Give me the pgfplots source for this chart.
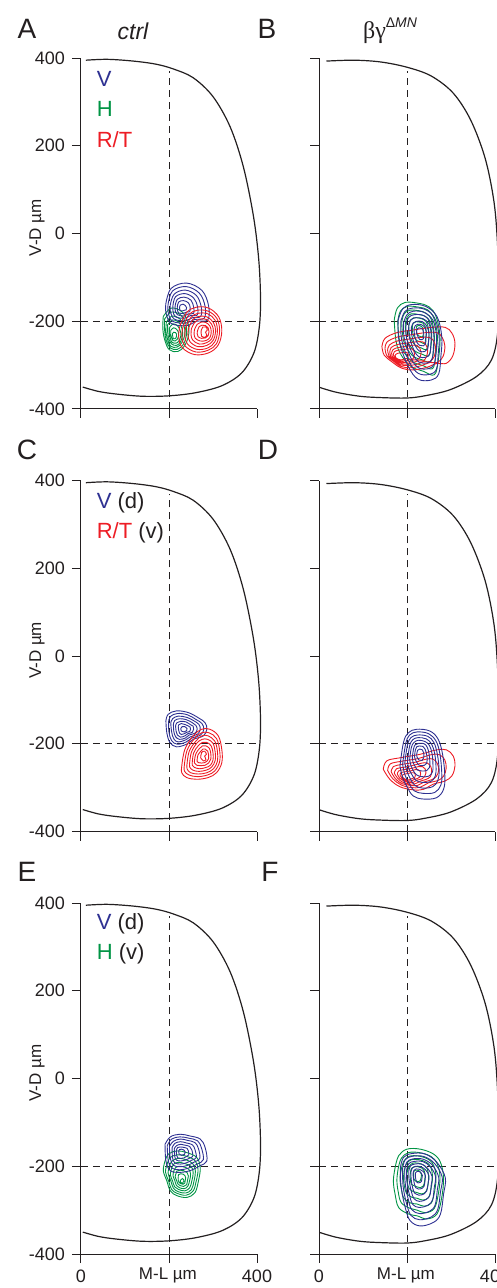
\documentclass[border=0pt]{standalone}
\usepackage{pgfplots}
\pgfplotsset{compat=1.18}
\usepackage{fontspec}
\setmainfont{Liberation Sans}
\newfontfamily\serifgreek{Liberation Serif}
\definecolor{cb}{RGB}{46,49,146}
\definecolor{cg}{RGB}{0,148,68}
\definecolor{cr}{RGB}{237,28,36}
\definecolor{ck}{RGB}{35,31,32}
\pgfplotsset{
  panel/.style={
    scale only axis, width=88pt, height=175.5pt,
    xmin=0, xmax=400, ymin=-400, ymax=400,
    axis x line*=bottom, axis y line*=left,
    axis line style={-, ck, line width=0.5pt},
    xtick={0,200,400}, ytick={-400,-200,0,200,400},
    tick align=outside, major tick length=4.5pt,
    tick style={ck, line width=0.5pt},
    xticklabels={}, yticklabels={},
    ticklabel style={font=\fontsize{9}{10}\selectfont, text=ck},
    clip=false, unbounded coords=jump,
    anchor=south west,
  },
  ylab/.style={yticklabels={-400,-200,0,200,400}, ylabel={V-D µm},
    ylabel style={at={(axis description cs:-0.25,0.516)}, anchor=center, font=\fontsize{8.5}{10}\selectfont, text=ck}},
  xlab/.style={xticklabels={0,,400}, xlabel={M-L µm},
    xlabel style={at={(axis description cs:0.494,-0.06)}, anchor=center, font=\fontsize{8.5}{10}\selectfont, text=ck}},
  cont/.style={smooth, tension=0.6, line width=0.45pt},
  dsh/.style={ck, line width=0.5pt, dash pattern=on 3.5pt off 2.5pt},
  outl/.style={ck, line width=0.6pt, smooth, tension=0.55},
}
\newcommand{\outlineL}{\addplot[outl] coordinates {(11,395) (60,397) (119,393) (170,386) (210,375) (255,355) (300,312) (339,243) (369,152) (392,39) (404,-60) (408,-150) (405,-215) (393,-272) (365,-318) (320,-347) (260,-363) (200,-370) (140,-371) (81,-366) (40,-360) (4,-350)};}
\newcommand{\outlineR}{\addplot[outl] coordinates {(17,393) (80,395) (140,391) (200,379) (255,359) (305,320) (345,258) (378,170) (398,70) (406,-30) (408,-130) (406,-227) (392,-288) (358,-326) (298,-356) (240,-370) (199,-375) (140,-374) (93,-371) (40,-362) (2,-351)};}
\newcommand{\cross}{\addplot[dsh] coordinates {(200,-400) (200,370)};
  \addplot[dsh] coordinates {(0,-200) (404,-200)};}
\begin{document}
\begin{tikzpicture}
% ---------------- A ----------------
\begin{axis}[panel, ylab, at={(0pt,0pt)}]
\outlineL \cross
\addplot[cont, cg] coordinates {
(187,-189) (205,-170) (229,-178) (242,-200) (245,-228) (236,-255) (220,-269) (201,-265) (191,-245) (186,-218) (187,-189) (nan,nan)
(190,-195) (206,-179) (227,-186) (238,-205) (240,-229) (233,-252) (219,-264) (203,-261) (194,-244) (190,-220) (190,-195) (nan,nan)
(194,-202) (207,-188) (224,-194) (234,-210) (236,-230) (229,-249) (218,-259) (204,-257) (197,-242) (193,-223) (194,-202) (nan,nan)
(197,-208) (208,-197) (222,-202) (229,-215) (231,-231) (226,-247) (217,-255) (206,-252) (200,-241) (197,-225) (197,-208) (nan,nan)
(201,-215) (209,-206) (219,-210) (225,-220) (227,-232) (223,-244) (216,-250) (207,-248) (203,-239) (201,-228) (201,-215) (nan,nan)
(204,-221) (210,-215) (217,-218) (221,-224) (222,-233) (219,-241) (214,-245) (209,-244) (206,-238) (204,-230) (204,-221) (nan,nan)
(208,-228) (211,-225) (215,-226) (217,-229) (217,-234) (216,-238) (213,-240) (210,-240) (209,-237) (208,-232) (208,-228)};
\addplot[cont, cb] coordinates {
(193,-159) (205,-125) (240,-113) (275,-130) (290,-165) (288,-197) (262,-200) (240,-210) (205,-205) (193,-180) (193,-159) (nan,nan)
(198,-161) (208,-131) (239,-121) (269,-136) (282,-166) (280,-193) (258,-196) (239,-204) (208,-200) (198,-179) (198,-161) (nan,nan)
(203,-162) (212,-138) (237,-129) (262,-141) (273,-166) (272,-189) (253,-192) (237,-199) (212,-195) (203,-177) (203,-162) (nan,nan)
(209,-164) (215,-144) (236,-137) (256,-147) (265,-167) (264,-186) (249,-187) (236,-193) (215,-190) (209,-176) (209,-164) (nan,nan)
(214,-165) (219,-150) (234,-145) (250,-152) (256,-168) (256,-182) (244,-183) (234,-188) (219,-185) (214,-174) (214,-165) (nan,nan)
(219,-167) (222,-156) (233,-153) (244,-158) (248,-168) (247,-178) (240,-179) (233,-182) (222,-181) (219,-173) (219,-167) (nan,nan)
(224,-168) (226,-163) (232,-161) (237,-164) (240,-169) (239,-174) (235,-175) (232,-176) (226,-176) (224,-172) (224,-168)};
\addplot[cont, cr] coordinates {
(225,-210) (240,-180) (262,-168) (290,-170) (313,-190) (320,-222) (312,-254) (290,-272) (258,-276) (230,-260) (222,-235) (225,-210) (nan,nan)
(232,-212) (245,-185) (264,-175) (289,-177) (309,-194) (315,-222) (308,-251) (289,-266) (261,-270) (236,-256) (229,-234) (232,-212) (nan,nan)
(238,-214) (250,-191) (266,-182) (288,-183) (305,-198) (310,-223) (304,-247) (288,-261) (263,-264) (242,-252) (236,-233) (238,-214) (nan,nan)
(245,-215) (254,-196) (268,-189) (286,-190) (301,-203) (306,-223) (300,-244) (286,-255) (266,-258) (248,-247) (243,-231) (245,-215) (nan,nan)
(251,-217) (259,-202) (271,-195) (285,-196) (297,-207) (301,-223) (297,-240) (285,-249) (269,-252) (254,-243) (250,-230) (251,-217) (nan,nan)
(258,-219) (264,-207) (273,-202) (284,-203) (293,-211) (296,-224) (293,-237) (284,-244) (271,-245) (260,-239) (257,-229) (258,-219) (nan,nan)
(265,-221) (269,-212) (275,-209) (283,-210) (289,-215) (291,-224) (289,-233) (283,-238) (274,-239) (266,-235) (264,-228) (265,-221) (nan,nan)
(273,-222) (277,-213) (284,-213) (287,-220) (283,-225) (286,-232) (280,-237) (274,-234) (273,-222)};
\node[anchor=west, font=\fontsize{11}{13}\selectfont, text=cb] at (axis cs:20,352) {V};
\node[anchor=west, font=\fontsize{11}{13}\selectfont, text=cg] at (axis cs:20,284) {H};
\node[anchor=west, font=\fontsize{11}{13}\selectfont, text=cr] at (axis cs:20,215) {R/T};
\end{axis}
% ---------------- B ----------------
\begin{axis}[panel, at={(119pt,0pt)}]
\outlineR \cross
\addplot[cont, cg] coordinates {
(171,-197) (178,-170) (196,-157) (226,-159) (250,-167) (266,-189) (275,-235) (271,-290) (262,-322) (237,-314) (205,-300) (178,-258) (171,-197) (nan,nan)
(179,-200) (185,-177) (201,-166) (227,-168) (247,-174) (261,-193) (269,-233) (265,-280) (258,-308) (236,-301) (208,-289) (185,-253) (179,-200) (nan,nan)
(188,-203) (193,-184) (206,-175) (227,-176) (244,-182) (256,-198) (262,-231) (260,-270) (253,-293) (235,-288) (212,-278) (193,-247) (188,-203) (nan,nan)
(196,-207) (200,-191) (210,-183) (228,-185) (242,-189) (251,-202) (256,-229) (254,-261) (249,-279) (234,-275) (215,-266) (200,-242) (196,-207) (nan,nan)
(204,-210) (207,-198) (215,-192) (228,-193) (239,-197) (246,-206) (250,-227) (248,-251) (244,-265) (233,-261) (219,-255) (207,-237) (204,-210) (nan,nan)
(212,-213) (214,-205) (220,-201) (229,-202) (236,-204) (241,-211) (244,-225) (242,-241) (240,-251) (232,-248) (222,-244) (214,-231) (212,-213) (nan,nan)
(221,-216) (222,-212) (225,-210) (229,-210) (233,-212) (236,-215) (237,-222) (237,-231) (235,-236) (231,-235) (226,-233) (222,-226) (221,-216)};
\addplot[cont, cr] coordinates {
(143,-258) (150,-239) (177,-226) (214,-220) (256,-214) (287,-214) (302,-227) (309,-250) (304,-279) (289,-296) (268,-296) (245,-305) (214,-311) (188,-307) (165,-292) (148,-277) (143,-258) (nan,nan)
(150,-262) (155,-247) (178,-236) (208,-231) (242,-226) (268,-226) (280,-237) (286,-256) (282,-280) (269,-294) (252,-294) (233,-301) (208,-306) (187,-303) (168,-290) (154,-278) (150,-262) (nan,nan)
(156,-266) (160,-254) (178,-245) (202,-241) (230,-237) (251,-237) (261,-246) (265,-261) (262,-280) (252,-292) (238,-292) (223,-298) (202,-301) (185,-299) (170,-289) (159,-279) (156,-266) (nan,nan)
(161,-270) (164,-260) (178,-253) (198,-250) (220,-247) (236,-247) (243,-254) (247,-266) (244,-281) (237,-290) (226,-290) (214,-294) (198,-298) (184,-295) (172,-288) (163,-280) (161,-270) (nan,nan)
(165,-273) (168,-265) (179,-260) (194,-258) (210,-255) (223,-255) (229,-261) (232,-270) (230,-281) (224,-288) (215,-288) (206,-292) (194,-294) (183,-293) (174,-287) (167,-281) (165,-273) (nan,nan)
(169,-276) (171,-270) (179,-266) (190,-265) (202,-263) (211,-263) (215,-267) (217,-273) (216,-282) (212,-287) (206,-287) (199,-289) (190,-291) (182,-290) (176,-286) (171,-281) (169,-276) (nan,nan)
(173,-278) (175,-275) (179,-273) (186,-272) (194,-271) (199,-271) (202,-273) (203,-277) (202,-282) (200,-285) (196,-285) (192,-287) (186,-288) (181,-287) (177,-285) (174,-282) (173,-278)};
\addplot[cont, cb] coordinates {
(180,-197) (190,-172) (210,-162) (242,-166) (268,-189) (279,-235) (277,-280) (272,-320) (255,-334) (225,-332) (203,-303) (182,-245) (180,-197) (nan,nan)
(186,-200) (195,-178) (212,-170) (241,-173) (263,-193) (273,-234) (271,-273) (267,-309) (252,-321) (226,-319) (206,-294) (188,-243) (186,-200) (nan,nan)
(192,-204) (200,-185) (215,-177) (239,-180) (259,-198) (267,-233) (266,-267) (262,-297) (249,-308) (226,-306) (209,-284) (194,-240) (192,-204) (nan,nan)
(198,-207) (204,-191) (217,-185) (238,-187) (254,-202) (261,-231) (260,-260) (257,-286) (246,-295) (227,-293) (213,-275) (199,-238) (198,-207) (nan,nan)
(204,-210) (209,-197) (220,-192) (236,-194) (250,-206) (255,-230) (254,-254) (252,-274) (243,-282) (227,-281) (216,-266) (205,-235) (204,-210) (nan,nan)
(210,-214) (214,-204) (222,-200) (235,-201) (245,-211) (250,-229) (249,-247) (247,-263) (240,-269) (228,-268) (219,-256) (211,-233) (210,-214) (nan,nan)
(216,-217) (219,-210) (224,-207) (233,-208) (241,-215) (244,-228) (243,-240) (242,-252) (237,-256) (229,-255) (222,-247) (217,-231) (216,-217) (nan,nan)
(222,-221) (224,-217) (227,-215) (232,-216) (236,-219) (238,-227) (238,-234) (237,-240) (234,-242) (229,-242) (226,-237) (222,-228) (222,-221)};
\end{axis}
% ---------------- C ----------------
\begin{axis}[panel, ylab, at={(0pt,-211.25pt)}]
\outlineL \cross
\addplot[cont, cb] coordinates {
(193,-148) (198,-133) (217,-125) (244,-129) (267,-141) (282,-152) (286,-167) (278,-182) (255,-190) (240,-201) (217,-207) (202,-197) (195,-175) (193,-148) (nan,nan)
(199,-151) (203,-138) (219,-131) (242,-134) (262,-145) (275,-154) (279,-167) (272,-180) (252,-187) (239,-196) (219,-201) (206,-193) (200,-174) (199,-151) (nan,nan)
(204,-153) (208,-143) (221,-137) (241,-140) (257,-148) (268,-156) (271,-167) (265,-178) (249,-184) (238,-191) (221,-196) (211,-189) (206,-173) (204,-153) (nan,nan)
(210,-156) (213,-147) (224,-143) (239,-145) (253,-152) (261,-158) (264,-167) (259,-176) (246,-180) (237,-187) (224,-190) (215,-184) (211,-172) (210,-156) (nan,nan)
(215,-159) (218,-152) (226,-149) (238,-150) (248,-156) (255,-160) (256,-167) (253,-174) (243,-177) (236,-182) (226,-185) (219,-180) (216,-171) (215,-159) (nan,nan)
(221,-161) (222,-157) (228,-154) (236,-156) (243,-159) (248,-162) (249,-167) (247,-172) (240,-174) (235,-177) (228,-179) (224,-176) (222,-169) (221,-161) (nan,nan)
(227,-165) (230,-161) (236,-161) (241,-165) (240,-170) (234,-173) (228,-171) (227,-165)};
\addplot[cont, cr] coordinates {
(229,-251) (236,-213) (255,-182) (274,-167) (293,-167) (312,-182) (320,-213) (320,-243) (308,-266) (289,-277) (263,-281) (240,-277) (229,-266) (229,-251) (nan,nan)
(235,-248) (241,-215) (258,-188) (274,-175) (291,-175) (308,-188) (315,-215) (315,-241) (304,-262) (288,-271) (265,-275) (245,-271) (235,-262) (235,-248) (nan,nan)
(241,-246) (246,-217) (261,-194) (275,-182) (289,-182) (304,-194) (310,-217) (310,-240) (301,-257) (286,-266) (267,-269) (249,-266) (241,-257) (241,-246) (nan,nan)
(247,-243) (251,-219) (263,-199) (275,-190) (288,-190) (300,-199) (305,-219) (305,-238) (297,-253) (285,-260) (268,-263) (254,-260) (247,-253) (247,-243) (nan,nan)
(253,-241) (256,-221) (266,-205) (276,-197) (286,-197) (296,-205) (300,-221) (300,-237) (294,-249) (284,-254) (270,-257) (258,-254) (253,-249) (253,-241) (nan,nan)
(258,-238) (261,-223) (269,-211) (276,-205) (284,-205) (292,-211) (295,-223) (295,-235) (290,-244) (282,-249) (272,-250) (263,-249) (258,-244) (258,-238) (nan,nan)
(264,-236) (266,-225) (272,-217) (277,-212) (282,-212) (288,-217) (290,-225) (290,-234) (286,-240) (281,-243) (274,-244) (267,-243) (264,-240) (264,-236) (nan,nan)
(272,-232) (274,-220) (281,-217) (285,-224) (281,-228) (284,-236) (278,-239) (272,-232)};
\node[anchor=west, font=\fontsize{11}{13}\selectfont, text=cb] at (axis cs:20,350) {V \textcolor{ck}{(d)}};
\node[anchor=west, font=\fontsize{11}{13}\selectfont, text=cr] at (axis cs:20,280) {R/T \textcolor{ck}{(v)}};
\end{axis}
% ---------------- D ----------------
\begin{axis}[panel, at={(119pt,-211.25pt)}]
\outlineR \cross
\addplot[cont, cr] coordinates {
(146,-258) (154,-239) (184,-232) (230,-224) (267,-214) (290,-214) (305,-228) (309,-251) (302,-273) (286,-285) (260,-292) (237,-304) (214,-305) (184,-298) (161,-281) (146,-258) (nan,nan)
(156,-261) (162,-246) (187,-240) (224,-234) (255,-225) (274,-225) (286,-237) (289,-256) (283,-274) (270,-284) (249,-289) (230,-299) (211,-300) (187,-294) (168,-280) (156,-261) (nan,nan)
(164,-264) (169,-252) (189,-247) (219,-242) (244,-235) (259,-235) (269,-245) (272,-260) (267,-274) (256,-282) (239,-287) (224,-295) (209,-295) (189,-291) (174,-280) (164,-264) (nan,nan)
(171,-267) (176,-257) (191,-254) (215,-249) (234,-244) (246,-244) (254,-252) (256,-263) (253,-275) (244,-281) (231,-285) (219,-291) (207,-292) (191,-288) (179,-279) (171,-267) (nan,nan)
(178,-269) (181,-262) (193,-259) (211,-256) (226,-252) (235,-252) (241,-257) (243,-267) (240,-275) (234,-280) (223,-283) (214,-288) (205,-288) (193,-285) (184,-279) (178,-269) (nan,nan)
(184,-271) (186,-266) (195,-264) (208,-262) (219,-259) (225,-259) (230,-263) (231,-269) (229,-276) (224,-279) (217,-281) (210,-285) (203,-285) (195,-283) (188,-278) (184,-271) (nan,nan)
(189,-274) (191,-270) (196,-269) (205,-267) (211,-266) (215,-266) (218,-268) (219,-272) (218,-276) (215,-278) (210,-280) (206,-282) (202,-282) (196,-281) (192,-278) (189,-274)};
\addplot[cont, cb] coordinates {
(184,-251) (192,-197) (203,-175) (222,-167) (252,-171) (271,-190) (281,-225) (286,-273) (283,-304) (267,-323) (237,-326) (214,-319) (200,-298) (190,-277) (184,-251) (nan,nan)
(190,-247) (197,-200) (206,-180) (223,-173) (249,-177) (266,-194) (275,-224) (279,-267) (277,-294) (263,-311) (236,-313) (216,-307) (204,-289) (195,-270) (190,-247) (nan,nan)
(195,-244) (201,-203) (209,-186) (224,-180) (247,-183) (261,-197) (269,-224) (273,-260) (270,-284) (258,-298) (235,-301) (218,-295) (207,-279) (200,-263) (195,-244) (nan,nan)
(201,-240) (206,-205) (213,-191) (225,-186) (244,-189) (256,-201) (263,-223) (266,-254) (264,-274) (254,-286) (234,-288) (220,-283) (211,-270) (204,-256) (201,-240) (nan,nan)
(206,-236) (210,-208) (216,-197) (226,-192) (241,-195) (251,-204) (257,-223) (259,-248) (258,-264) (249,-274) (234,-275) (222,-271) (214,-261) (209,-250) (206,-236) (nan,nan)
(212,-232) (215,-211) (219,-202) (227,-199) (239,-200) (246,-208) (250,-222) (252,-241) (251,-254) (245,-261) (233,-262) (224,-260) (218,-251) (214,-243) (212,-232) (nan,nan)
(217,-229) (219,-214) (222,-207) (228,-205) (236,-206) (241,-212) (244,-221) (246,-235) (245,-244) (240,-249) (232,-250) (226,-248) (222,-242) (219,-236) (217,-229) (nan,nan)
(222,-225) (224,-215) (229,-212) (235,-214) (238,-221) (238,-232) (234,-238) (227,-237) (223,-231) (222,-225)};
\end{axis}
% ---------------- E ----------------
\begin{axis}[panel, ylab, xlab, at={(0pt,-422.5pt)}]
\outlineL \cross
\addplot[cont, cg] coordinates {
(191,-188) (199,-172) (218,-165) (241,-169) (263,-180) (271,-203) (267,-233) (259,-260) (241,-271) (218,-267) (203,-256) (195,-233) (187,-210) (191,-188) (nan,nan)
(196,-194) (203,-180) (219,-174) (239,-177) (259,-187) (266,-207) (262,-233) (255,-256) (239,-266) (219,-262) (206,-253) (199,-233) (192,-213) (196,-194) (nan,nan)
(201,-199) (207,-188) (221,-182) (238,-185) (254,-194) (260,-211) (257,-233) (251,-253) (238,-261) (221,-258) (210,-250) (204,-233) (198,-216) (201,-199) (nan,nan)
(206,-205) (211,-195) (222,-191) (236,-194) (250,-200) (255,-214) (252,-233) (247,-249) (236,-256) (222,-253) (213,-247) (208,-233) (203,-219) (206,-205) (nan,nan)
(211,-211) (215,-203) (224,-200) (235,-202) (245,-207) (249,-218) (247,-232) (243,-245) (235,-251) (224,-249) (217,-244) (213,-232) (209,-221) (211,-211) (nan,nan)
(216,-217) (218,-211) (225,-209) (233,-210) (241,-214) (244,-222) (242,-232) (240,-242) (233,-246) (225,-244) (220,-240) (217,-232) (214,-224) (216,-217) (nan,nan)
(221,-222) (222,-219) (227,-217) (232,-218) (236,-221) (238,-226) (237,-232) (236,-238) (232,-241) (227,-240) (223,-237) (221,-232) (221,-222) (nan,nan)
(226,-232) (231,-228) (234,-234) (230,-239) (226,-236) (226,-232)};
\addplot[cont, cb] coordinates {
(191,-150) (203,-133) (225,-127) (248,-131) (271,-138) (282,-157) (286,-188) (270,-199) (248,-210) (225,-214) (203,-210) (193,-188) (191,-150) (nan,nan)
(196,-153) (206,-138) (225,-133) (245,-136) (265,-142) (274,-159) (278,-185) (264,-195) (245,-204) (225,-208) (206,-204) (198,-185) (196,-153) (nan,nan)
(201,-155) (210,-143) (226,-138) (242,-141) (259,-146) (267,-160) (270,-182) (258,-190) (242,-198) (226,-201) (210,-198) (203,-182) (201,-155) (nan,nan)
(207,-158) (213,-148) (226,-144) (240,-147) (253,-151) (259,-162) (262,-180) (252,-186) (240,-192) (226,-195) (213,-192) (208,-180) (207,-158) (nan,nan)
(212,-160) (217,-153) (227,-150) (237,-152) (247,-155) (252,-163) (254,-177) (246,-182) (237,-186) (227,-188) (217,-186) (213,-177) (212,-160) (nan,nan)
(217,-163) (220,-157) (227,-156) (234,-157) (241,-159) (244,-165) (245,-174) (241,-177) (234,-181) (227,-182) (220,-181) (217,-174) (217,-163) (nan,nan)
(222,-165) (224,-162) (228,-161) (234,-163) (237,-168) (235,-173) (228,-175) (223,-172) (222,-165)};
\node[anchor=west, font=\fontsize{11}{13}\selectfont, text=cb] at (axis cs:20,352) {V \textcolor{ck}{(d)}};
\node[anchor=west, font=\fontsize{11}{13}\selectfont, text=cg] at (axis cs:20,284) {H \textcolor{ck}{(v)}};
\end{axis}
% ---------------- F ----------------
\begin{axis}[panel, xlab, at={(119pt,-422.5pt)}]
\outlineR \cross
\addplot[cont, cg] coordinates {
(173,-203) (181,-176) (200,-161) (230,-161) (260,-172) (276,-191) (283,-226) (279,-271) (268,-309) (245,-320) (223,-313) (204,-309) (181,-294) (173,-264) (169,-233) (173,-203) (nan,nan)
(180,-205) (187,-182) (203,-169) (229,-169) (255,-178) (269,-195) (275,-225) (271,-264) (262,-296) (242,-306) (223,-300) (207,-296) (187,-283) (180,-258) (177,-231) (180,-205) (nan,nan)
(187,-207) (193,-188) (206,-177) (228,-177) (250,-185) (261,-199) (266,-224) (263,-256) (255,-284) (239,-291) (223,-286) (209,-284) (193,-273) (187,-251) (184,-229) (187,-207) (nan,nan)
(194,-209) (199,-194) (210,-185) (227,-185) (244,-191) (254,-202) (258,-223) (255,-249) (249,-271) (236,-277) (223,-273) (212,-271) (199,-262) (194,-245) (192,-227) (194,-209) (nan,nan)
(201,-211) (205,-200) (213,-193) (226,-193) (239,-198) (246,-206) (249,-222) (248,-241) (243,-258) (233,-263) (223,-260) (215,-258) (205,-251) (201,-238) (199,-225) (201,-211) (nan,nan)
(208,-213) (210,-205) (216,-201) (225,-201) (234,-204) (239,-210) (241,-220) (240,-234) (237,-245) (230,-249) (223,-247) (217,-245) (210,-241) (208,-232) (207,-223) (208,-213) (nan,nan)
(215,-216) (216,-211) (219,-209) (224,-209) (229,-211) (231,-215) (233,-219) (232,-227) (230,-233) (226,-235) (220,-234) (216,-230) (215,-224) (215,-216)};
\addplot[cont, cb] coordinates {
(185,-203) (192,-180) (211,-171) (241,-172) (268,-191) (287,-226) (283,-264) (276,-309) (260,-328) (230,-336) (207,-324) (196,-294) (188,-256) (185,-226) (185,-203) (nan,nan)
(190,-205) (196,-185) (213,-177) (239,-178) (263,-194) (280,-225) (276,-259) (270,-298) (256,-315) (229,-322) (209,-312) (199,-285) (192,-252) (190,-225) (190,-205) (nan,nan)
(195,-207) (200,-190) (214,-183) (237,-184) (258,-198) (272,-225) (269,-253) (264,-288) (252,-302) (229,-308) (211,-299) (203,-276) (197,-247) (195,-225) (195,-207) (nan,nan)
(199,-209) (204,-194) (216,-189) (235,-189) (253,-201) (265,-224) (262,-248) (258,-277) (247,-289) (228,-294) (213,-287) (206,-267) (201,-243) (199,-224) (199,-209) (nan,nan)
(204,-211) (208,-199) (218,-195) (233,-195) (247,-205) (257,-223) (255,-243) (252,-266) (243,-276) (228,-280) (216,-274) (210,-258) (206,-239) (204,-223) (204,-211) (nan,nan)
(209,-213) (212,-204) (219,-200) (231,-201) (242,-208) (250,-222) (248,-238) (245,-256) (239,-263) (227,-266) (218,-262) (213,-250) (210,-234) (209,-222) (209,-213) (nan,nan)
(214,-215) (216,-209) (221,-206) (229,-207) (237,-212) (242,-222) (241,-232) (239,-245) (235,-250) (226,-252) (220,-249) (217,-241) (215,-230) (214,-222) (214,-215) (nan,nan)
(219,-217) (220,-214) (223,-212) (228,-212) (232,-215) (235,-221) (234,-227) (233,-234) (230,-237) (225,-238) (222,-236) (220,-230) (219,-223) (219,-217)};
\end{axis}
% ---------------- titles and panel letters ----------------
\node[font=\fontsize{11.5}{13}\itshape, text=ck] at (26pt,189pt) {ctrl};
\node[text=ck] at (154.5pt,189pt) {{\fontsize{12}{14}\serifgreek βγ}\raisebox{0.55em}{\fontsize{7}{8}\selectfont Δ\itshape MN}};
\foreach \L/\x/\y in {A/-27/190, B/93/190, C/-27/-20.5, D/93.5/-20.5, E/-27/-231.5, F/94.5/-231.5}
  \node[font=\fontsize{14}{16}\selectfont, text=ck] at (\x pt,\y pt) {\L};
\pgfresetboundingbox
\path[use as bounding box] (-40.5pt,-439.5pt) rectangle (208pt,204.5pt);
\end{tikzpicture}
\end{document}
